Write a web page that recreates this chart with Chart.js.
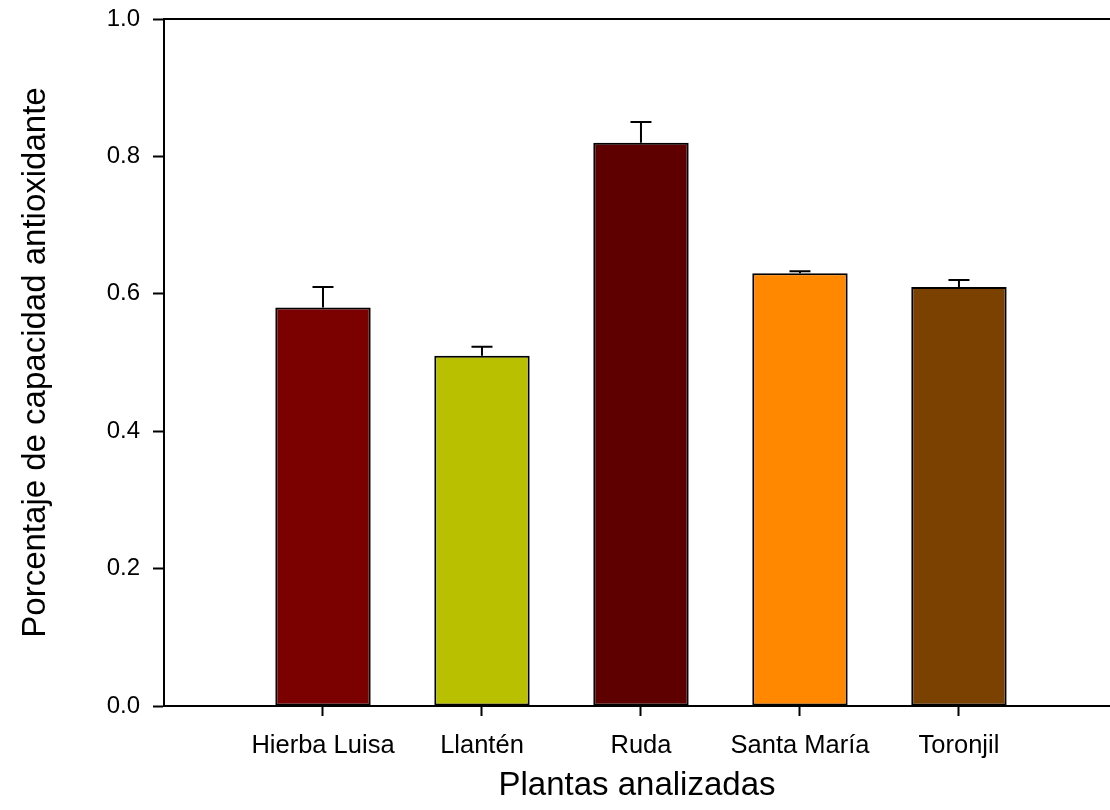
<!DOCTYPE html>
<html>
<head>
<meta charset="utf-8">
<script src="https://cdn.jsdelivr.net/npm/chart.js@4"></script>
<style>
  html, body { margin: 0; padding: 0; background: #fff; overflow: hidden; }
  #wrap { width: 1110px; height: 810px; }
</style>
</head>
<body>
<div id="wrap"><canvas id="chart"></canvas></div>
<script>
const categories = ['Hierba Luisa', 'Llantén', 'Ruda', 'Santa María', 'Toronjil']
const values = [0.58, 0.51, 0.82, 0.63, 0.61]
const errors = [0.03, 0.013, 0.03, 0.003, 0.01]
const colors = ['#7b0000', '#b9c000', '#5e0000', '#ff8800', '#7b4100']
const yTicks = [0, 0.2, 0.4, 0.6, 0.8, 1.0]

const font = 'Liberation Sans, Arial, sans-serif'

// upward error bars (cap + stem), drawn through the scales
const errorBars = {
    id: 'errorBars',
    afterDatasetsDraw(chart) {
        const { ctx, scales: { x, y } } = chart
        ctx.save()
        ctx.strokeStyle = '#000'
        ctx.lineWidth = 2
        values.forEach((v, i) => {
            const px = x.getPixelForValue(i + 1)
            const top = y.getPixelForValue(v + errors[i])
            const base = y.getPixelForValue(v)
            ctx.beginPath()
            ctx.moveTo(px, base)
            ctx.lineTo(px, top)
            ctx.moveTo(px - 10.5, top)
            ctx.lineTo(px + 10.5, top)
            ctx.stroke()
        })
        ctx.restore()
    }
}

new Chart(document.getElementById('chart'), {
    type: 'bar',
    data: {
        datasets: [{
            data: values.map((v, i) => ({ x: i + 1, y: v })),
            backgroundColor: colors,
            borderColor: '#000',
            borderWidth: 2,
            borderSkipped: false,
            categoryPercentage: 0.6,
            barPercentage: 1,
        }]
    },
    options: {
        responsive: true,
        maintainAspectRatio: false,
        animation: false,
        layout: { padding: { top: 19, left: 0, right: 0, bottom: 0 } },
        plugins: { legend: { display: false }, tooltip: { enabled: false } },
        scales: {
            x: {
                type: 'linear',
                offset: false,
                min: 0,
                max: 5.95,
                afterBuildTicks: (s) => { s.ticks = categories.map((c, i) => ({ value: i + 1 })) },
                afterFit: (s) => { s.height = 104; s.paddingLeft = 0; s.paddingRight = 0 },
                ticks: {
                    autoSkip: false,
                    maxRotation: 0,
                    padding: 15,
                    color: '#000',
                    font: { family: font, size: 25.5 },
                    callback: (v) => categories[v - 1] || '',
                },
                grid: { offset: false, drawOnChartArea: false, tickLength: 10, tickWidth: 2, tickColor: '#000' },
                border: { color: '#000', width: 2 },
                title: {
                    display: true,
                    text: 'Plantas analizadas',
                    color: '#000',
                    font: { family: font, size: 33 },
                    padding: { top: 0, bottom: 4 },
                },
            },
            xTop: {
                type: 'linear',
                position: 'top',
                offset: false,
                min: 0,
                max: 5.95,
                afterFit: (s) => { s.height = 0; s.paddingLeft = 0; s.paddingRight = 0 },
                ticks: { display: false },
                grid: { display: false, drawTicks: false },
                border: { display: true, color: '#000', width: 2 },
            },
            y: {
                min: 0,
                max: 1,
                afterBuildTicks: (s) => { s.ticks = yTicks.map((v) => ({ value: v })) },
                afterFit: (s) => { s.width = 164; s.paddingTop = 0; s.paddingBottom = 0 },
                ticks: {
                    padding: 13,
                    color: '#000',
                    font: { family: font, size: 24 },
                    callback: (v) => v.toFixed(1),
                },
                grid: { drawOnChartArea: false, tickLength: 11, tickWidth: 2, tickColor: '#000' },
                border: { color: '#000', width: 2 },
                title: {
                    display: true,
                    text: 'Porcentaje de capacidad antioxidante',
                    color: '#000',
                    font: { family: font, size: 33 },
                    padding: { top: 16, bottom: 0 },
                },
            },
        },
    },
    plugins: [errorBars],
})
</script>
</body>
</html>
